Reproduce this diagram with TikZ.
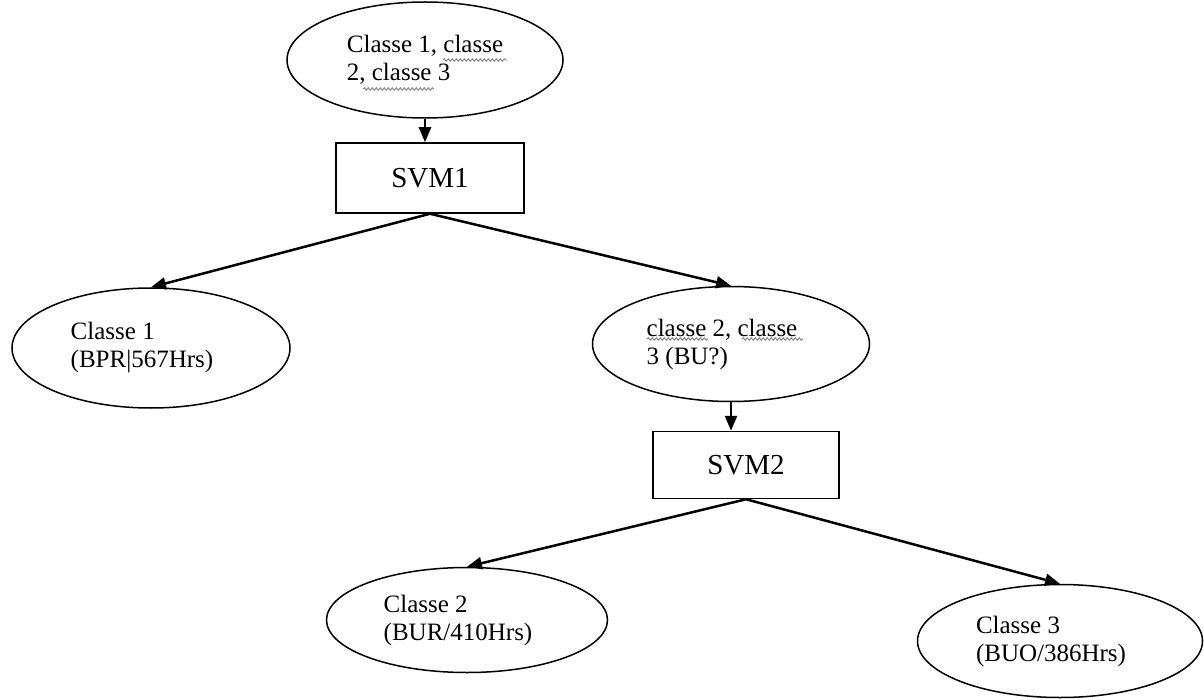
\documentclass[tikz,border=0pt]{standalone}
\usepackage{fontspec}
\setmainfont{Liberation Serif}
\usetikzlibrary{arrows.meta,shapes.geometric,decorations.pathmorphing}
\newcommand{\padr}{\hspace*{18pt}}
\begin{document}
\begin{tikzpicture}[x=1pt,y=-1pt,
  ell/.style={draw, ellipse, line width=1.5pt, inner sep=0pt, align=left,
              font=\fontsize{25}{28}\selectfont},
  box/.style={draw, rectangle, line width=1.5pt, inner sep=0pt,
              font=\fontsize{29}{32}\selectfont},
  arr/.style={line width=2.5pt, -{Triangle[length=15pt,width=12pt]}},
  squig/.style={gray, line width=0.9pt, decorate,
                decoration={snake, amplitude=1.3pt, segment length=4pt}}]
\useasboundingbox (0,0) rectangle (1204,700);

\node[ell, minimum width=276pt, minimum height=116pt] (top) at (425,60)
  {Classe 1, classe\\2, classe 3};
\node[box, minimum width=188pt, minimum height=70pt] (svm1) at (430,178) {SVM1};
\node[ell, minimum width=278pt, minimum height=120pt] (c1) at (151,348)
  {Classe 1\\(BPR|567Hrs)\padr};
\node[ell, minimum width=277pt, minimum height=115pt] (c23) at (731,344)
  {classe 2, classe\padr\\3 (BU?)};
\node[box, minimum width=186pt, minimum height=67pt] (svm2) at (746,465) {SVM2};
\node[ell, minimum width=281pt, minimum height=105pt] (c2) at (467,620)
  {Classe 2\\(BUR/410Hrs)\padr};
\node[ell, minimum width=285pt, minimum height=113pt] (c3) at (1060,641)
  {Classe 3\\(BUO/386Hrs)\padr};

\draw[arr] (top.south) -- (top.south |- svm1.north);
\draw[arr] (svm1.south) -- (c1.north);
\draw[arr] (svm1.south) -- (c23.north);
\draw[arr] (c23.south) -- (c23.south |- svm2.north);
\draw[arr] (svm2.south) -- (c2.north);
\draw[arr] (svm2.south) -- (c3.north);

% spell-check squiggles
\draw[squig] (443,60) -- (507,60);
\draw[squig] (363,89) -- (434,89);
\draw[squig] (647,339) -- (708,339);
\draw[squig] (742,339) -- (803,339);
\end{tikzpicture}
\end{document}
